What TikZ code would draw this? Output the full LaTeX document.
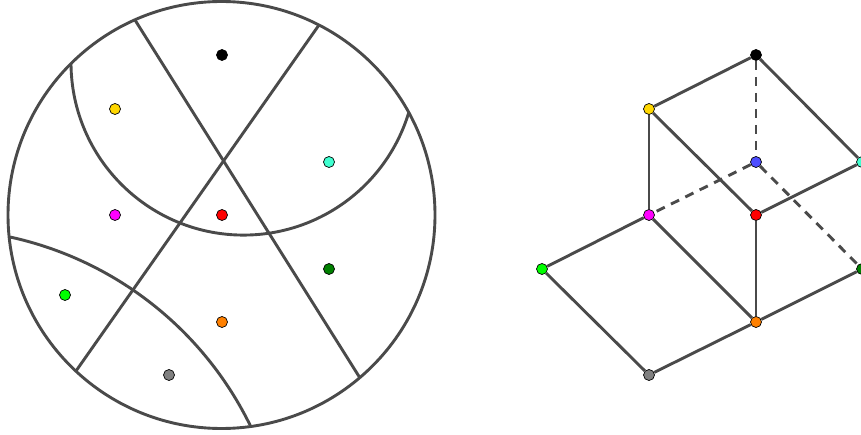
\documentclass[tikz,border=0pt]{standalone}
\usepackage{tikz}
\usetikzlibrary{positioning}
\usepackage{xcolor}

\definecolor{edgegray}{RGB}{74,74,74}
\definecolor{dotyellow}{RGB}{255,215,0}
\definecolor{dotcyan}{RGB}{64,255,208}
\definecolor{dotmagenta}{RGB}{255,0,255}
\definecolor{dotred}{RGB}{255,0,0}
\definecolor{dotdkgreen}{RGB}{0,128,0}
\definecolor{dotgreen}{RGB}{0,255,0}
\definecolor{dotorange}{RGB}{255,128,0}
\definecolor{dotgray}{RGB}{128,128,128}
\definecolor{dotblue}{RGB}{77,77,255}

\tikzset{
    wall/.style={draw=edgegray, line width=2.9pt},
    hidden/.style={draw=edgegray, line width=2.9pt, dash pattern=on 9pt off 7pt},
    pt/.style={circle, draw=black, line width=0.7pt, inner sep=0pt, minimum size=11pt}
}

\begin{document}
\begin{tikzpicture}[x=1pt, y=1pt]
    \useasboundingbox (0,0) rectangle (861,434);

    % Outer disc
    \coordinate (o) at (221.5,219);
    \draw[wall] (o) circle (213.5);

    % Two chords through the disc
    \coordinate (c1a) at (135,414);
    \coordinate (c1b) at (360,56);
    \coordinate (c2a) at (319,409);
    \coordinate (c2b) at (76,63);
    \draw[wall] (c1a) -- (c1b);
    \draw[wall] (c2a) -- (c2b);

    % Upper arc (centre (243.6,371.6), radius 172.6)
    \draw[wall] (71,370) arc[start angle=180.5, end angle=343.3, radius=172.6];

    % Lower arc (centre (-64.7,-145.6), radius 350.6)
    \draw[wall] (10,197) arc[start angle=77.7, end angle=25.8, radius=350.6];

    % Region points
    \node[pt, fill=black]      (dBlack)   at (222,379) {};
    \node[pt, fill=dotyellow]  (dYellow)  at (115,325) {};
    \node[pt, fill=dotcyan]    (dCyan)    at (329,272) {};
    \node[pt, fill=dotmagenta] (dMagenta) at (115,219) {};
    \node[pt, fill=dotred]     (dRed)     at (222,219) {};
    \node[pt, fill=dotdkgreen] (dDkgreen) at (329,165) {};
    \node[pt, fill=dotgreen]   (dGreen)   at (65,139) {};
    \node[pt, fill=dotorange]  (dOrange)  at (222,112) {};
    \node[pt, fill=dotgray]    (dGray)    at (169,59) {};

    % Cube-like graph on the right
    \node[pt, fill=black]      (gBlack)   at (756,379) {};
    \node[pt, fill=dotyellow]  (gYellow)  at (649,325) {};
    \node[pt, fill=dotblue]    (gBlue)    at (756,272) {};
    \node[pt, fill=dotcyan]    (gCyan)    at (862,272) {};
    \node[pt, fill=dotmagenta] (gMagenta) at (649,219) {};
    \node[pt, fill=dotred]     (gRed)     at (756,219) {};
    \node[pt, fill=dotgreen]   (gGreen)   at (542,165) {};
    \node[pt, fill=dotdkgreen] (gDkgreen) at (862,165) {};
    \node[pt, fill=dotorange]  (gOrange)  at (756,112) {};
    \node[pt, fill=dotgray]    (gGray)    at (649,59) {};

    % Hidden edges
    \draw[hidden] (gBlack) -- (gBlue);
    \draw[hidden] (gBlue) -- (gMagenta);
    \draw[hidden] (gBlue) -- (gDkgreen);

    % Visible edges
    \draw[wall] (gYellow) -- (gBlack);
    \draw[wall] (gBlack) -- (gCyan);
    \draw[wall] (gYellow) -- (gMagenta);
    \draw[wall] (gYellow) -- (gRed);
    \draw[wall] (gRed) -- (gCyan);
    \draw[wall] (gRed) -- (gOrange);
    \draw[wall] (gGreen) -- (gMagenta);
    \draw[wall] (gMagenta) -- (gOrange);
    \draw[wall] (gGreen) -- (gGray);
    \draw[wall] (gGray) -- (gOrange);
    \draw[wall] (gOrange) -- (gDkgreen);
\end{tikzpicture}
\end{document}
